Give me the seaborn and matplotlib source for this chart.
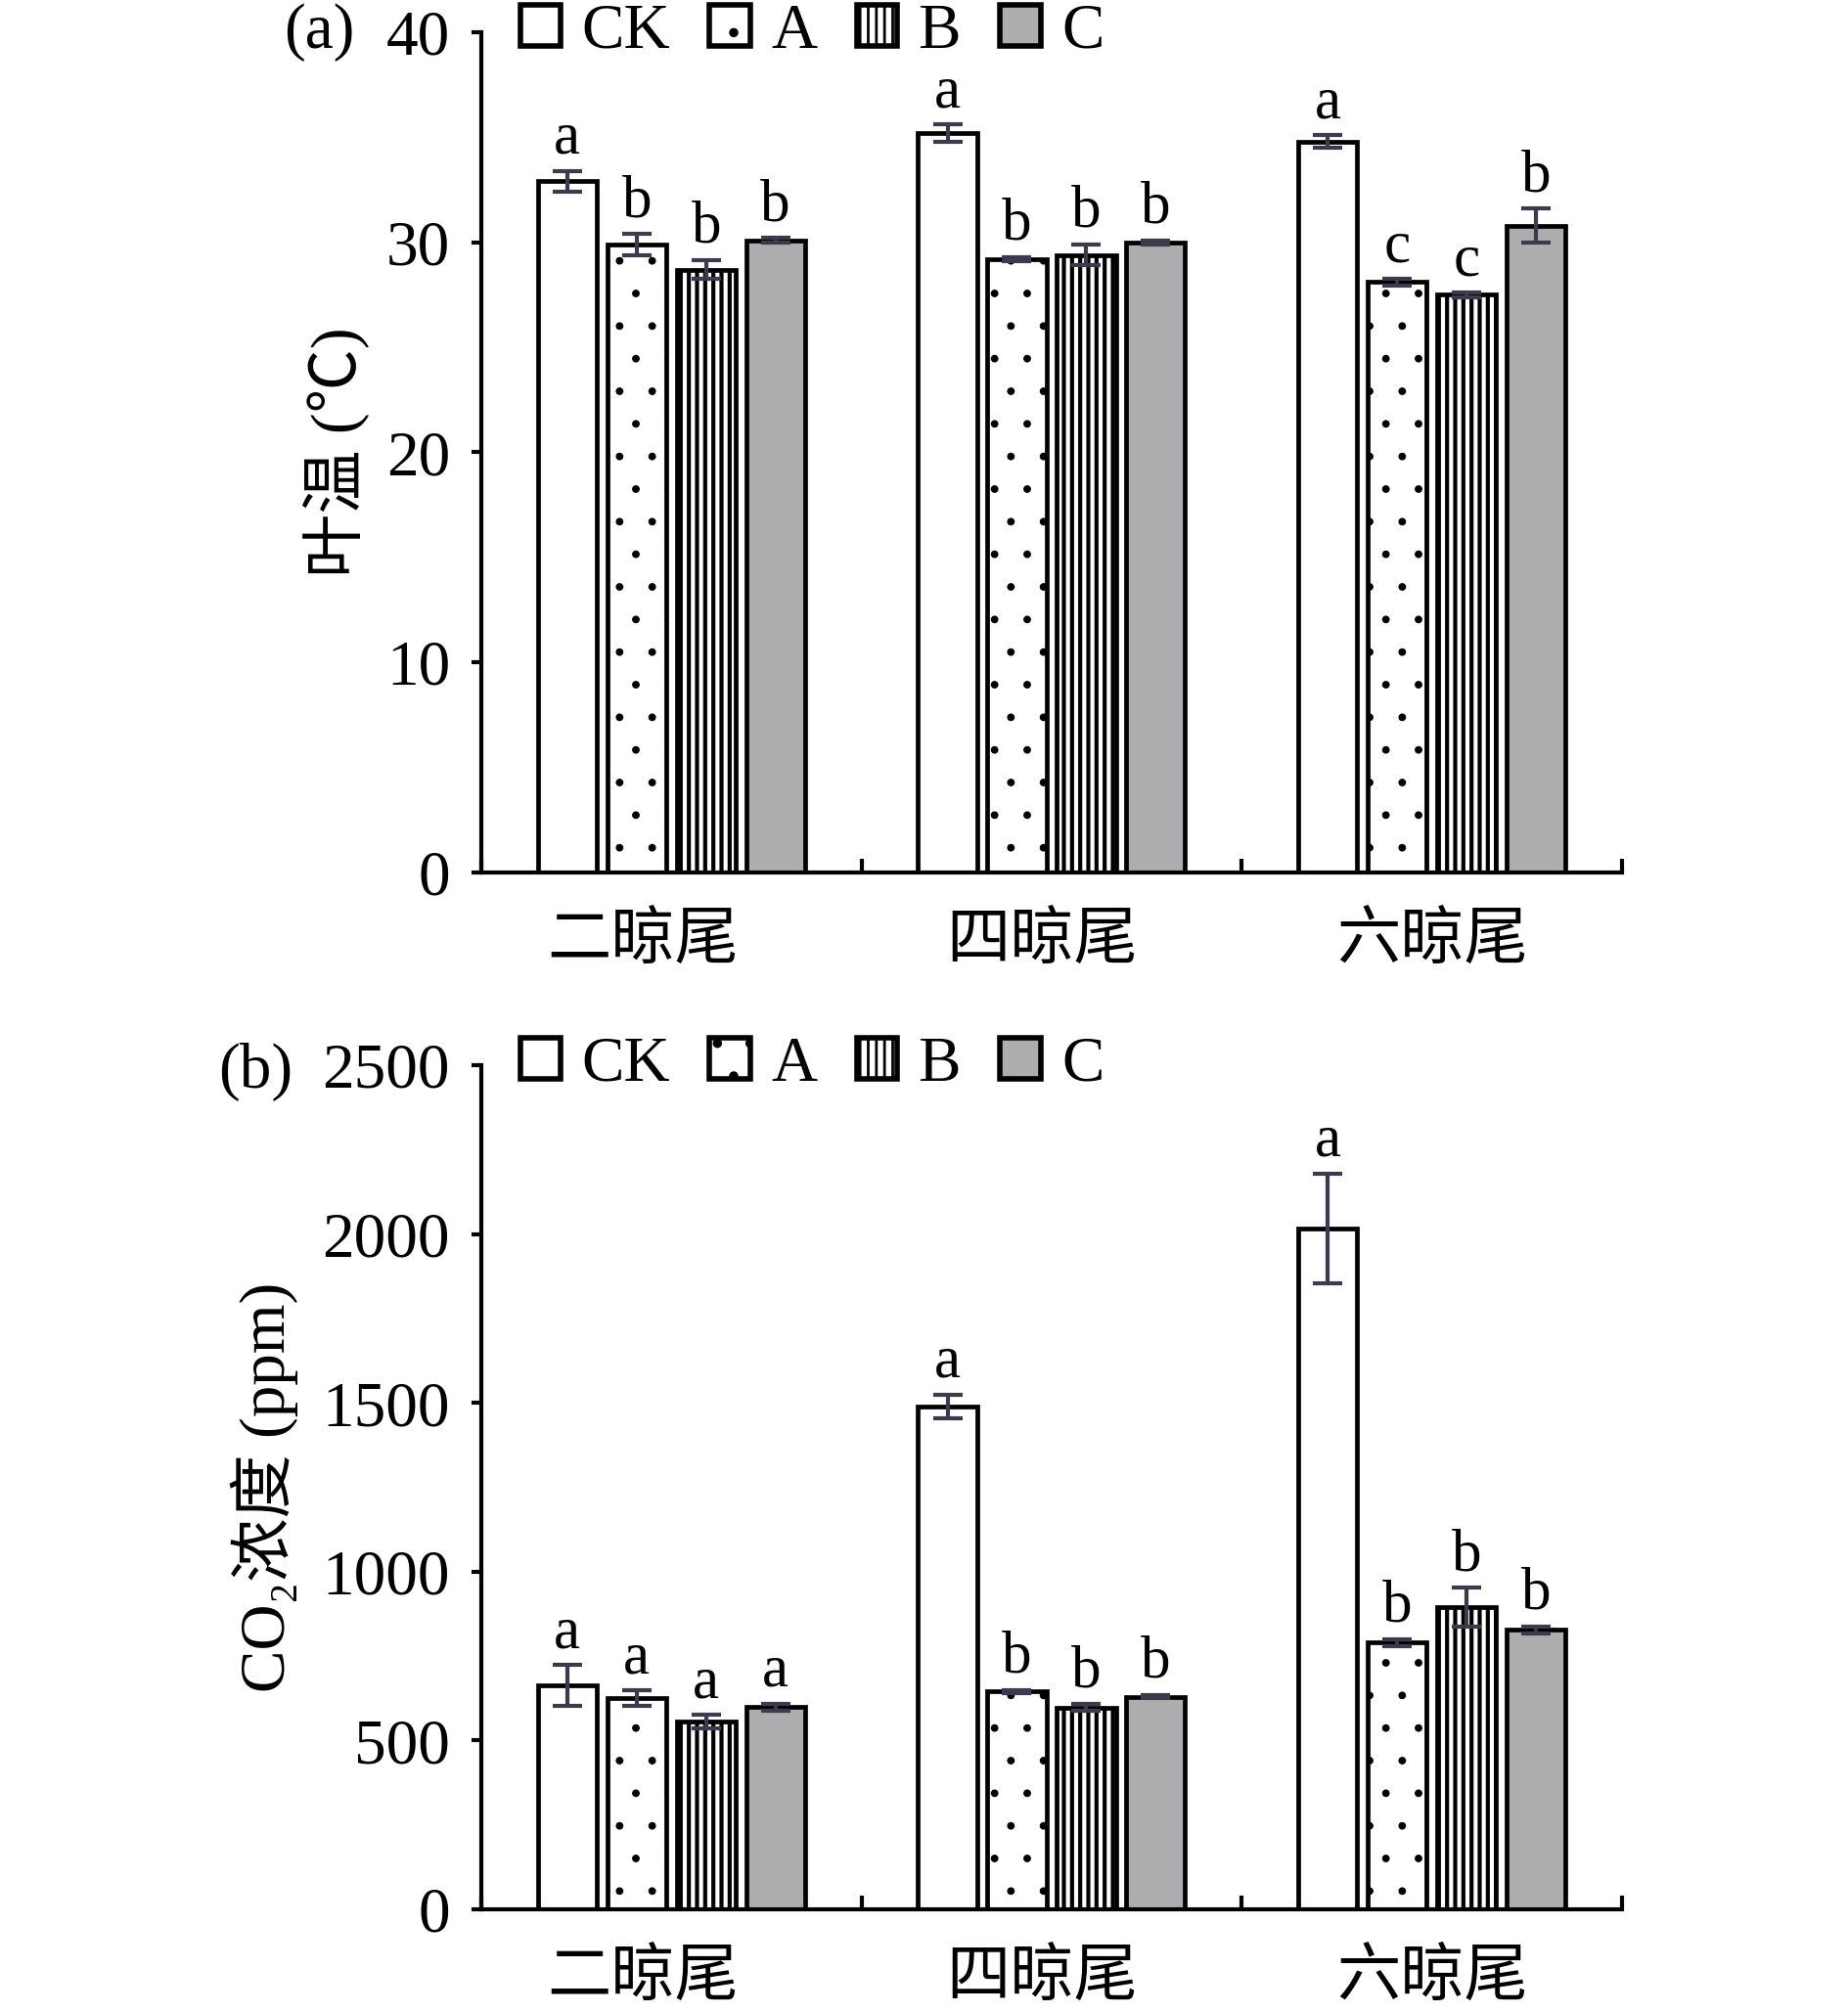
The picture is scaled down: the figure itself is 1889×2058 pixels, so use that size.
import numpy as np
import pandas as pd
import matplotlib
matplotlib.use("Agg")
import matplotlib.pyplot as plt
import matplotlib.patches as mpatches
import seaborn as sns

# ---------------- data ----------------
stages = ['二晾尾', '四晾尾', '六晾尾']
treatments = ['CK', 'A', 'B', 'C']

temp_ck = [32.9, 35.2, 34.8]
temp_a = [29.9, 29.2, 28.1]
temp_b = [28.7, 29.4, 27.5]
temp_c = [30.1, 30.0, 30.8]
temp_err_ck = [0.5, 0.4, 0.3]
temp_err_a = [0.5, 0.1, 0.15]
temp_err_b = [0.45, 0.5, 0.1]
temp_err_c = [0.1, 0.1, 0.8]
temp_sig_ck = ['a', 'a', 'a']
temp_sig_a = ['b', 'b', 'c']
temp_sig_b = ['b', 'b', 'c']
temp_sig_c = ['b', 'b', 'b']

co2_ck = [663, 1490, 2017]
co2_a = [626, 645, 790]
co2_b = [556, 597, 895]
co2_c = [599, 630, 828]
co2_err_ck = [61, 35, 163]
co2_err_a = [22, 5, 10]
co2_err_b = [20, 10, 58]
co2_err_c = [10, 5, 10]
co2_sig_ck = ['a', 'a', 'a']
co2_sig_a = ['a', 'b', 'b']
co2_sig_b = ['a', 'b', 'b']
co2_sig_c = ['a', 'b', 'b']

temp_yticks = [0, 10, 20, 30, 40]
co2_yticks = [0, 500, 1000, 1500, 2000, 2500]
# category label anchor positions (labels in the source sit slightly off-centre)
cat_label_pos = [-0.075, 0.974, 2.0]

# ---------------- style ----------------
sns.set_style('ticks')
FAM = ['Liberation Serif', 'Noto Sans CJK SC', 'DejaVu Sans']
plt.rcParams['font.family'] = FAM
plt.rcParams['hatch.linewidth'] = 1.0
for k in ['text.color', 'axes.labelcolor', 'xtick.color', 'ytick.color',
          'axes.edgecolor']:
    plt.rcParams[k] = 'black'

GREY = '#abadae'
ERRC = '#3b3b4c'
palette = {'CK': 'white', 'A': 'white', 'B': 'white', 'C': GREY}
hatches = {'CK': '', 'A': '.', 'B': '||||', 'C': ''}
hatch_lw = {'CK': 0.5, 'A': 0.4, 'B': 1.5, 'C': 0.5}

TICK_FS = 23.5
LET_FS = 22
CAT_FS = 23.5

fig = plt.figure(figsize=(9.45, 10.29), dpi=200)
ax_a = fig.add_axes([0.2603, 0.5666, 0.6169, 0.4174])
ax_b = fig.add_axes([0.2603, 0.0515, 0.6169, 0.4193])


def make_df(vals):
    rows = []
    for t, v in zip(treatments, vals):
        for s, y in zip(stages, v):
            rows.append({'stage': s, 'trt': t, 'value': y})
    return pd.DataFrame(rows)


def draw(ax, vals, errs, sigs, yticks, ylabel, ylab_x):
    df = make_df(vals)
    sns.barplot(data=df, x='stage', y='value', hue='trt', order=stages,
                hue_order=treatments, palette=palette, edgecolor='black',
                linewidth=1.7, width=0.73, gap=0.15, errorbar=None,
                legend=False, ax=ax, saturation=1)
    for cont, t, e, sg in zip(ax.containers, treatments, errs, sigs):
        xs, ys = [], []
        for p in cont.patches:
            p.set_hatch(hatches[t])
            if hasattr(p, 'set_hatch_linewidth'):
                p.set_hatch_linewidth(hatch_lw[t])
            xs.append(p.get_x() + p.get_width() / 2)
            ys.append(p.get_height())
        ax.errorbar(xs, ys, yerr=e, fmt='none', ecolor=ERRC, elinewidth=1.5,
                    capsize=5.5, capthick=1.5, zorder=5)
        for x, y, ee, s in zip(xs, ys, e, sg):
            ax.annotate(s, xy=(x, y + ee), xytext=(0, 6.5),
                        textcoords='offset points', ha='center',
                        va='baseline', fontsize=LET_FS, family=FAM)
    ax.set_xlim(-0.5, 2.5)
    ax.set_ylim(yticks[0], yticks[-1])
    ax.set_yticks(yticks)
    ax.set_yticklabels([str(v) for v in yticks], fontsize=TICK_FS)
    ax.set_xticks(cat_label_pos)
    ax.set_xticklabels(stages, fontsize=CAT_FS)
    ax.set_xticks([-0.5, 0.5, 1.5, 2.5], minor=True)
    ax.tick_params(axis='x', which='major', length=0, pad=15)
    ax.tick_params(axis='x', which='minor', direction='in', length=5,
                   width=1.5, color='black')
    ax.tick_params(axis='y', direction='out', length=3.5, width=1.5,
                   pad=8, color='black')
    for sp in ['top', 'right']:
        ax.spines[sp].set_visible(False)
    for sp in ['left', 'bottom']:
        ax.spines[sp].set_linewidth(1.5)
        ax.spines[sp].set_color('black')
    ax.set_xlabel('')
    ax.set_ylabel(ylabel, fontsize=TICK_FS, family=FAM)
    ax.yaxis.set_label_coords(ylab_x, 0.5)

    handles = []
    for t in treatments:
        h = mpatches.Patch(facecolor=palette[t], edgecolor='black',
                           hatch=hatches[t], linewidth=2, label=t)
        handles.append(h)
    ax.legend(handles=handles, loc='center left',
              bbox_to_anchor=(0.034, 1.0), ncol=4, frameon=False,
              fontsize=TICK_FS, handlelength=0.64, handleheight=0.62,
              handletextpad=0.32, columnspacing=0.62, borderpad=0,
              borderaxespad=0)


draw(ax_a, [temp_ck, temp_a, temp_b, temp_c],
     [temp_err_ck, temp_err_a, temp_err_b, temp_err_c],
     [temp_sig_ck, temp_sig_a, temp_sig_b, temp_sig_c],
     temp_yticks, '叶温 (℃)', -0.098)
draw(ax_b, [co2_ck, co2_a, co2_b, co2_c],
     [co2_err_ck, co2_err_a, co2_err_b, co2_err_c],
     [co2_sig_ck, co2_sig_a, co2_sig_b, co2_sig_c],
     co2_yticks, 'CO₂浓度 (ppm)', -0.16)

fig.text(326 / 1890, 1 - 33 / 2058, '(a)', fontsize=TICK_FS, ha='center',
         va='center', family=FAM)
fig.text(261 / 1890, 1 - 1096 / 2058, '(b)', fontsize=TICK_FS, ha='center',
         va='center', family=FAM)

fig.savefig('out.png', dpi=200, facecolor='white')
